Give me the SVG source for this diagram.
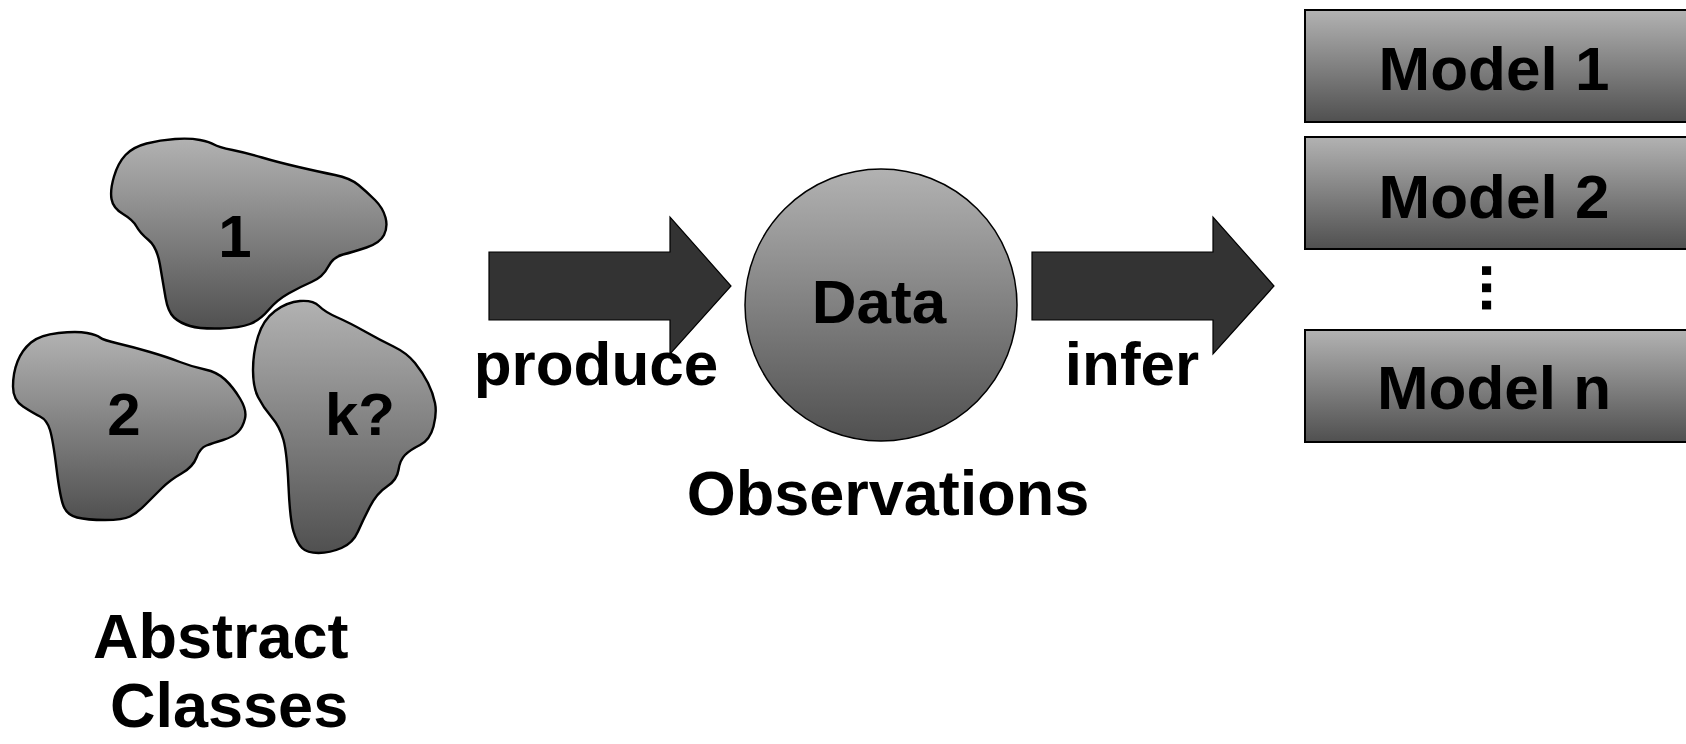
<svg xmlns="http://www.w3.org/2000/svg" width="1686" height="744" viewBox="0 0 1686 744">
  <defs>
    <linearGradient id="shade" x1="0" y1="0" x2="0" y2="1">
      <stop offset="0" stop-color="#b2b2b2"/>
      <stop offset="1" stop-color="#505050"/>
    </linearGradient>
    <style>
      .lbl { font-family: "Liberation Sans", Arial, sans-serif; font-weight: bold; fill: #000; }
      .blob { fill: url(#shade); stroke: #000; stroke-width: 2.4; stroke-linejoin: round; }
      .box { fill: url(#shade); stroke: #000; stroke-width: 2; }
      .arrow { fill: #333333; stroke: #000; stroke-width: 1.2; }
    </style>
  </defs>
  <rect width="1686" height="744" fill="#ffffff"/>

  <!-- abstract classes -->
  <g id="class-1">
    <path class="blob" d="M 114,176.5 Q 118,163 125.5,155 Q 133,147 146.5,143.5 Q 160,140 175,139 Q 190,138 200,140 Q 210,142 214,144.5 Q 218,147 232.5,150 Q 247,153 262,157.5 Q 277,162 298.5,167 Q 320,172 335,175 Q 350,178 358.5,185 Q 367,192 375,200 Q 383,208 385.5,217.5 Q 388,227 384,235 Q 380,243 366.5,247.5 Q 353,252 343,254.5 Q 333,257 328,267 Q 323,277 311.5,282 Q 300,287 288.5,293.5 Q 277,300 268.5,310 Q 260,320 250,324 Q 240,328 220,328.5 Q 200,329 190,326 Q 180,323 174,317.5 Q 168,312 165.5,297.5 Q 163,283 160,265 Q 157,247 148.5,240 Q 140,233 136.5,226.5 Q 133,220 123,214 Q 113,208 111.5,199 Q 110,190 114,176.5 Z"/>
    <text class="lbl" x="235" y="257" font-size="60" text-anchor="middle">1</text>
  </g>
  <g id="class-2">
    <path class="blob" d="M 31,342.5 Q 40,335 58.5,333 Q 77,331 87,333 Q 97,335 100,337.5 Q 103,340 118,343.5 Q 133,347 150,352 Q 167,357 180,362 Q 193,367 205,369.5 Q 217,372 225,379.5 Q 233,387 240,398.5 Q 247,410 245,418.5 Q 243,427 238,432 Q 233,437 223,440 Q 213,443 206.5,445.5 Q 200,448 196.5,457.5 Q 193,467 181.5,473.5 Q 170,480 161.5,488.5 Q 153,497 145,505 Q 137,513 130,516.5 Q 123,520 105,520 Q 87,520 77,517.5 Q 67,515 63.5,506 Q 60,497 56.5,468.5 Q 53,440 50,430 Q 47,420 40,416.5 Q 33,413 23,406.5 Q 13,400 13,386.5 Q 13,373 17.5,361.5 Q 22,350 31,342.5 Z"/>
    <text class="lbl" x="124" y="435" font-size="60" text-anchor="middle">2</text>
  </g>
  <g id="class-k">
    <path class="blob" d="M 258,336.5 Q 263,320 275,311 Q 287,302 300,301 Q 313,300 319,306 Q 325,312 337.5,317.5 Q 350,323 365,331.5 Q 380,340 393.5,346.5 Q 407,353 415,363 Q 423,373 428,383 Q 433,393 435,403 Q 437,413 433.5,426.5 Q 430,440 420,445 Q 410,450 405,455 Q 400,460 398.5,470 Q 397,480 387,486.5 Q 377,493 370,506.5 Q 363,520 358,531.5 Q 353,543 341.5,548 Q 330,553 318.5,553 Q 307,553 302,548 Q 297,543 293.5,531.5 Q 290,520 288.5,486.5 Q 287,453 283.5,440 Q 280,427 271.5,417 Q 263,407 258,397 Q 253,387 253,370 Q 253,353 258,336.5 Z"/>
    <text class="lbl" x="360" y="435" font-size="60" text-anchor="middle">k?</text>
  </g>
  <g id="classes-caption">
    <text class="lbl" x="93" y="658" font-size="63">Abstract</text>
    <text class="lbl" x="110" y="727" font-size="63">Classes</text>
  </g>

  <!-- block arrows -->
  <g id="connectors">
    <path class="arrow" d="M489,252 H670 V217 L731,286 L670,354 V320 H489 Z"/>
    <path class="arrow" d="M1032,252 H1213 V217 L1274,286 L1213,354 V320 H1032 Z"/>
    <text class="lbl" x="596" y="385" font-size="62" text-anchor="middle">produce</text>
    <text class="lbl" x="1132" y="385" font-size="62" text-anchor="middle">infer</text>
  </g>

  <!-- observations -->
  <g id="data">
    <circle cx="881" cy="305" r="136" fill="url(#shade)" stroke="#000" stroke-width="1.5"/>
    <text class="lbl" x="879" y="323" font-size="62" text-anchor="middle">Data</text>
    <text class="lbl" x="888" y="515" font-size="63" text-anchor="middle">Observations</text>
  </g>

  <!-- candidate models -->
  <g id="model-1">
    <rect class="box" x="1305" y="10" width="420" height="112"/>
    <text class="lbl" x="1494" y="90" font-size="62" text-anchor="middle">Model 1</text>
  </g>
  <g id="model-2">
    <rect class="box" x="1305" y="137" width="420" height="112"/>
    <text class="lbl" x="1494" y="218" font-size="62" text-anchor="middle">Model 2</text>
  </g>
  <g id="model-ellipsis">
    <text class="lbl" x="0" y="0" font-size="62" transform="translate(1482,262) rotate(90)">...</text>
  </g>
  <g id="model-n">
    <rect class="box" x="1305" y="330" width="420" height="112"/>
    <text class="lbl" x="1494" y="409" font-size="62" text-anchor="middle">Model n</text>
  </g>
</svg>
